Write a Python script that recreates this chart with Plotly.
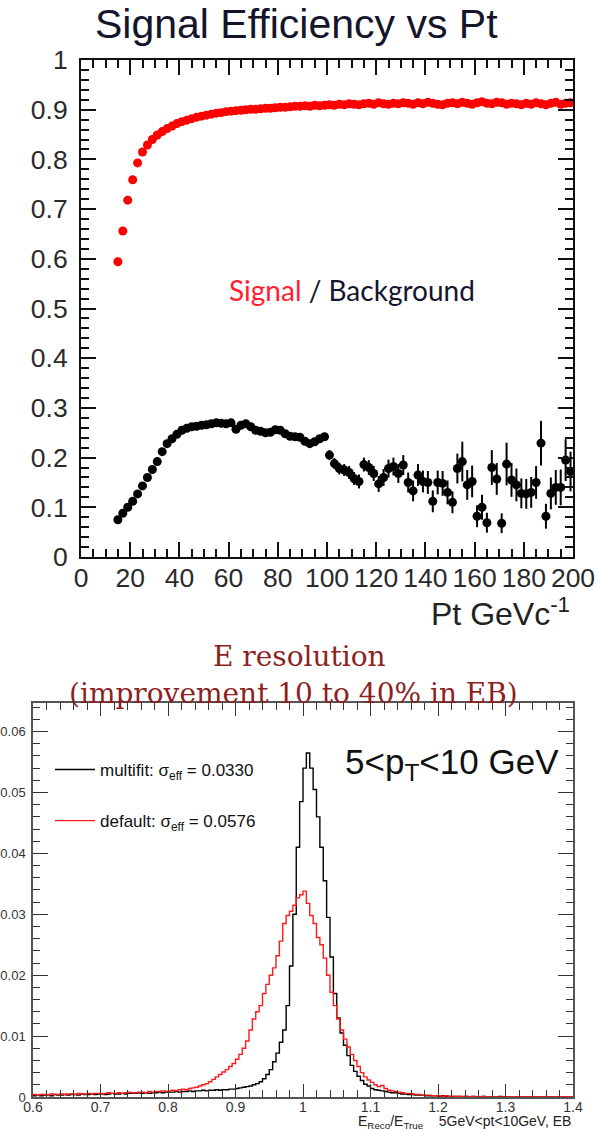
import numpy as np
import plotly.graph_objects as go

W, H = 598, 1130


def px(x):
    return x / W


def py(y):
    return 1 - y / H


# ---------------- efficiency vs Pt (2 GeV bins) ----------------
pt_bins = list(range(15, 200, 2))

sig_eff = [
    0.594, 0.656, 0.718, 0.759, 0.793, 0.815, 0.829, 0.840, 0.849, 0.856,
    0.862, 0.867, 0.872, 0.876, 0.879, 0.882, 0.885, 0.887, 0.889, 0.891,
    0.893, 0.894, 0.896, 0.897, 0.898, 0.899, 0.900, 0.901, 0.901, 0.902,
    0.903, 0.903, 0.904, 0.905, 0.905, 0.906, 0.907, 0.907, 0.908, 0.907,
    0.909, 0.908, 0.909, 0.910, 0.909, 0.911, 0.910, 0.912, 0.911, 0.910,
    0.912, 0.913, 0.911, 0.914, 0.912, 0.911, 0.913, 0.912, 0.914, 0.913,
    0.911, 0.914, 0.912, 0.915, 0.913, 0.911, 0.910, 0.913, 0.914, 0.912,
    0.915, 0.913, 0.911, 0.914, 0.916, 0.913, 0.912, 0.915, 0.914, 0.911,
    0.913, 0.912, 0.910, 0.913, 0.911, 0.914, 0.912, 0.910, 0.913, 0.915,
    0.911, 0.913, 0.914,
]

bkg_eff = [
    0.075, 0.088, 0.100, 0.112, 0.127, 0.143, 0.160, 0.176, 0.192, 0.212,
    0.228, 0.238, 0.247, 0.255, 0.259, 0.262, 0.263, 0.265, 0.266, 0.268,
    0.270, 0.269, 0.268, 0.270, 0.257, 0.265, 0.268, 0.262, 0.255, 0.253,
    0.250, 0.251, 0.256, 0.255, 0.248, 0.243, 0.242, 0.241, 0.233, 0.228,
    0.232, 0.238, 0.242, 0.205, 0.188, 0.178, 0.175, 0.170, 0.158, 0.152,
    0.186, 0.180, 0.168, 0.147, 0.160, 0.178, 0.182, 0.168, 0.185, 0.150,
    0.133, 0.165, 0.152, 0.150, 0.112, 0.150, 0.148, 0.130, 0.110, 0.178,
    0.192, 0.145, 0.152, 0.082, 0.100, 0.069, 0.180, 0.157, 0.068, 0.187,
    0.155, 0.145, 0.128, 0.127, 0.130, 0.150, 0.229, 0.082, 0.128, 0.140,
    0.140, 0.195, 0.172,
]

bkg_err = [
    0.003, 0.003, 0.003, 0.003, 0.003, 0.003, 0.003, 0.003, 0.003, 0.003,
    0.003, 0.003, 0.003, 0.003, 0.003, 0.003, 0.003, 0.003, 0.003, 0.003,
    0.003, 0.003, 0.003, 0.005, 0.005, 0.005, 0.005, 0.005, 0.005, 0.005,
    0.005, 0.005, 0.005, 0.005, 0.005, 0.006, 0.006, 0.006, 0.006, 0.006,
    0.007, 0.007, 0.007, 0.010, 0.011, 0.012, 0.012, 0.013, 0.013, 0.014,
    0.014, 0.015, 0.015, 0.016, 0.017, 0.018, 0.018, 0.019, 0.020, 0.020,
    0.021, 0.022, 0.022, 0.023, 0.022, 0.024, 0.025, 0.024, 0.022, 0.030,
    0.040, 0.030, 0.032, 0.022, 0.025, 0.020, 0.035, 0.032, 0.020, 0.043,
    0.034, 0.033, 0.030, 0.030, 0.031, 0.033, 0.045, 0.025, 0.032, 0.035,
    0.036, 0.042, 0.040,
]

# ---------------- energy response histograms ----------------
resp_lo, resp_hi, resp_bw = 0.6, 1.4, 0.005
resp_ymax = 0.0647

multifit_counts = [
    # 0.60 - 0.80
    0.0002, 0.0003, 0.0002, 0.0003, 0.0003, 0.0002, 0.0004, 0.0003, 0.0003, 0.0004,
    0.0003, 0.0004, 0.0004, 0.0003, 0.0005, 0.0004, 0.0004, 0.0005, 0.0004, 0.0005,
    0.0005, 0.0004, 0.0005, 0.0006, 0.0005, 0.0005, 0.0006, 0.0005, 0.0006, 0.0006,
    0.0006, 0.0007, 0.0006, 0.0007, 0.0006, 0.0007, 0.0007, 0.0008, 0.0007, 0.0008,
    # 0.80 - 0.90
    0.0008, 0.0008, 0.0009, 0.0008, 0.0009, 0.0009, 0.0010, 0.0009, 0.0010, 0.0010,
    0.0011, 0.0010, 0.0011, 0.0011, 0.0012, 0.0011, 0.0012, 0.0012, 0.0013, 0.0013,
    # 0.90 - 1.00
    0.0014, 0.0015, 0.0016, 0.0017, 0.0018, 0.0020, 0.0022, 0.0025, 0.0030, 0.0037,
    0.0045, 0.0058, 0.0072, 0.0090, 0.0110, 0.0150, 0.0215, 0.0300, 0.0410, 0.0485,
    # 1.00 - 1.10
    0.0540, 0.0565, 0.0540, 0.0505, 0.0460, 0.0410, 0.0355, 0.0295, 0.0230, 0.0170,
    0.0130, 0.0105, 0.0085, 0.0068, 0.0052, 0.0042, 0.0034, 0.0027, 0.0021, 0.0018,
    # 1.10 - 1.20
    0.0014, 0.0012, 0.0011, 0.0010, 0.0009, 0.0008, 0.0007, 0.0007, 0.0006, 0.0005,
    0.0005, 0.0004, 0.0004, 0.0003, 0.0003, 0.0003, 0.0002, 0.0002, 0.0002, 0.0002,
    # 1.20 - 1.40
    0.0001, 0.0002, 0.0001, 0.0001, 0.0001, 0.0001, 0.0001, 0.0000, 0.0001, 0.0000,
    0.0001, 0.0000, 0.0000, 0.0001, 0.0000, 0.0000, 0.0000, 0.0000, 0.0001, 0.0000,
    0.0000, 0.0000, 0.0000, 0.0000, 0.0000, 0.0000, 0.0000, 0.0000, 0.0000, 0.0000,
    0.0000, 0.0000, 0.0000, 0.0000, 0.0000, 0.0000, 0.0000, 0.0000, 0.0000, 0.0000,
]

default_counts = [
    # 0.60 - 0.80
    0.0004, 0.0003, 0.0004, 0.0004, 0.0003, 0.0005, 0.0004, 0.0004, 0.0005, 0.0004,
    0.0005, 0.0005, 0.0004, 0.0006, 0.0005, 0.0005, 0.0006, 0.0005, 0.0006, 0.0006,
    0.0005, 0.0006, 0.0007, 0.0006, 0.0006, 0.0007, 0.0006, 0.0007, 0.0008, 0.0007,
    0.0007, 0.0008, 0.0008, 0.0007, 0.0009, 0.0008, 0.0009, 0.0009, 0.0010, 0.0009,
    # 0.80 - 0.90
    0.0010, 0.0011, 0.0010, 0.0012, 0.0013, 0.0012, 0.0014, 0.0015, 0.0016, 0.0018,
    0.0020, 0.0022, 0.0025, 0.0029, 0.0033, 0.0037, 0.0041, 0.0045, 0.0050, 0.0055,
    # 0.90 - 1.00
    0.0062, 0.0070, 0.0080, 0.0092, 0.0110, 0.0128, 0.0140, 0.0150, 0.0170, 0.0185,
    0.0200, 0.0212, 0.0232, 0.0256, 0.0285, 0.0298, 0.0305, 0.0315, 0.0327, 0.0332,
    # 1.00 - 1.10
    0.0338, 0.0318, 0.0298, 0.0285, 0.0262, 0.0250, 0.0228, 0.0200, 0.0172, 0.0150,
    0.0128, 0.0110, 0.0095, 0.0082, 0.0070, 0.0060, 0.0050, 0.0040, 0.0033, 0.0028,
    # 1.10 - 1.20
    0.0024, 0.0020, 0.0017, 0.0019, 0.0014, 0.0011, 0.0010, 0.0009, 0.0008, 0.0007,
    0.0006, 0.0006, 0.0005, 0.0004, 0.0004, 0.0003, 0.0003, 0.0003, 0.0002, 0.0002,
    # 1.20 - 1.40
    0.0002, 0.0001, 0.0002, 0.0001, 0.0001, 0.0001, 0.0001, 0.0001, 0.0001, 0.0000,
    0.0001, 0.0000, 0.0000, 0.0001, 0.0000, 0.0000, 0.0000, 0.0000, 0.0000, 0.0000,
    0.0000, 0.0000, 0.0000, 0.0000, 0.0000, 0.0000, 0.0000, 0.0000, 0.0000, 0.0000,
    0.0000, 0.0000, 0.0000, 0.0000, 0.0000, 0.0000, 0.0000, 0.0000, 0.0000, 0.0000,
]

resp_edges = resp_lo + resp_bw * np.arange(len(multifit_counts) + 1)

SANS = "Liberation Sans, Arial, Helvetica, sans-serif"
SERIF = "DejaVu Serif, serif"

fig = go.Figure()

# efficiency points
fig.add_trace(go.Scatter(
    x=pt_bins, y=sig_eff, mode="markers", xaxis="x", yaxis="y",
    marker=dict(color="#ff0000", size=9), showlegend=False,
))
fig.add_trace(go.Scatter(
    x=pt_bins, y=bkg_eff, mode="markers", xaxis="x", yaxis="y",
    marker=dict(color="#000000", size=9),
    error_y=dict(type="data", array=bkg_err, visible=True, color="#000000",
                 thickness=2, width=0),
    showlegend=False,
))

# response histograms drawn as steps
fig.add_trace(go.Scatter(
    x=resp_edges, y=multifit_counts + [multifit_counts[-1]], mode="lines",
    line=dict(color="#000000", width=1.4, shape="hv"), xaxis="x2", yaxis="y2",
    name="multifit: σ<sub>eff</sub> = 0.0330", legendgroup="a",
))
fig.add_trace(go.Scatter(
    x=resp_edges, y=default_counts + [default_counts[-1]], mode="lines",
    line=dict(color="#ff1a1a", width=1.4, shape="hv"), xaxis="x2", yaxis="y2",
    name="default: σ<sub>eff</sub> = 0.0576", legendgroup="b",
))

frame_top = dict(
    showline=True, linecolor="#111111", linewidth=2, mirror="ticks",
    ticks="inside", tickcolor="#111111", tickwidth=2,
    showgrid=False, zeroline=False, automargin=False,
    tickfont=dict(family=SANS, size=26.5, color="#2a2a2a"),
)

fig.update_layout(
    width=W, height=H,
    margin=dict(l=0, r=0, t=0, b=0, autoexpand=False),
    paper_bgcolor="white", plot_bgcolor="white",
    xaxis=dict(
        domain=[px(81), px(573)], range=[0, 200], anchor="y",
        tick0=0, dtick=20, ticklen=15, tickangle=0,
        minor=dict(ticks="inside", dtick=5, ticklen=8, tickwidth=1.5,
                   tickcolor="#111111"),
        ticklabelstandoff=-4,
        **frame_top,
    ),
    yaxis=dict(
        domain=[py(557), py(60)], range=[0, 1], anchor="x",
        tick0=0, dtick=0.1, ticklen=15, tickformat="~g",
        minor=dict(ticks="inside", dtick=0.02, ticklen=8, tickwidth=1.5,
                   tickcolor="#111111"),
        ticklabelstandoff=6,
        **frame_top,
    ),
    xaxis2=dict(
        domain=[px(33), px(573)], range=[resp_lo, resp_hi], anchor="y2",
        tick0=0.6, dtick=0.1, ticks="inside", ticklen=13, tickwidth=1.2,
        tickcolor="#333333", tickangle=0,
        minor=dict(ticks="inside", dtick=0.02, ticklen=7, tickwidth=1,
                   tickcolor="#333333"),
        showline=True, linecolor="#555555", linewidth=1.5, mirror="ticks",
        showgrid=False, zeroline=False, tickformat="~g", automargin=False,
        tickfont=dict(family=SANS, size=14, color="#333333"),
        ticklabelstandoff=-4,
    ),
    yaxis2=dict(
        domain=[py(1097), py(703)], range=[0, resp_ymax], anchor="x2",
        tick0=0, dtick=0.01, ticks="inside", ticklen=15, tickwidth=1.2,
        tickcolor="#333333", tickformat="~g", automargin=False,
        minor=dict(ticks="inside", dtick=0.002, ticklen=7, tickwidth=1,
                   tickcolor="#333333"),
        showline=True, linecolor="#555555", linewidth=1.5, mirror="ticks",
        showgrid=False, zeroline=False,
        tickfont=dict(family=SANS, size=13, color="#333333"),
        ticklabelstandoff=3,
    ),
    legend=dict(
        x=px(50), y=py(752), xanchor="left", yanchor="top",
        bgcolor="rgba(0,0,0,0)", borderwidth=0,
        font=dict(family=SANS, size=17, color="#111111"),
        tracegroupgap=26, itemwidth=40,
    ),
)

annotations = [
    dict(x=px(296), y=py(24), text="Signal Efficiency vs Pt",
         font=dict(family=SANS, size=41, color="#14142a")),
    dict(x=px(572), y=py(612), text="Pt GeVc<sup>-1</sup>", xanchor="right",
         font=dict(family=SANS, size=32, color="#222222")),
    dict(x=px(352), y=py(290),
         text="<span style='color:#ff2030'>Signal</span> / Background",
         font=dict(family="Lato, Open Sans, sans-serif", size=28,
                   color="#151530")),
    dict(x=px(299), y=py(656), text="E resolution",
         font=dict(family=SERIF, size=28, color="#8e1f1f")),
    dict(x=px(293), y=py(693), text="(improvement 10 to 40% in EB)",
         font=dict(family=SERIF, size=28, color="#8e1f1f")),
    dict(x=px(452), y=py(764), text="5&lt;p<sub>T</sub>&lt;10 GeV",
         font=dict(family=SANS, size=35, color="#111111")),
    dict(x=px(573), y=py(1122), xanchor="right",
         text="E<sub>Reco</sub>/E<sub>True</sub>    5GeV&lt;pt&lt;10GeV, EB",
         font=dict(family=SANS, size=14, color="#222222")),
]
for a in annotations:
    a.update(xref="paper", yref="paper", showarrow=False)
    a.setdefault("xanchor", "center")
    a.setdefault("yanchor", "middle")
fig.update_layout(annotations=annotations)

fig.write_html("out.html")
